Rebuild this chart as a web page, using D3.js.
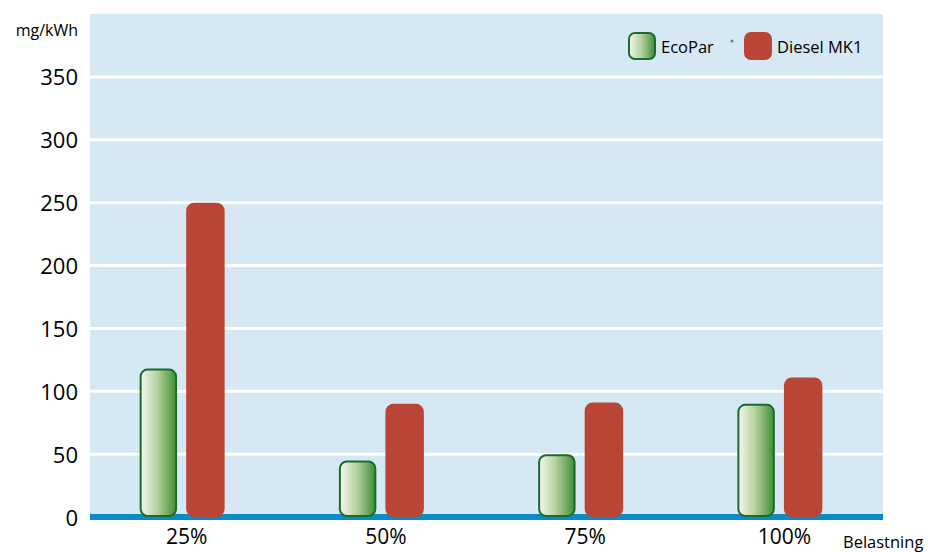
<!DOCTYPE html>
<html><head><meta charset="utf-8">
<script src="https://cdn.jsdelivr.net/npm/d3@7"></script>
<style>body{margin:0;background:#fff}svg{display:block;font-family:"Open Sans",sans-serif}</style>
</head><body><svg id="c" width="928" height="552"></svg>
<script>
const categories = ["25%", "50%", "75%", "100%"];
const seriesNames = ["EcoPar", "Diesel MK1"];
const ecoPar = [118, 45, 50, 90];
const dieselMK1 = [250, 90, 91, 111];
const yTicks = [0, 50, 100, 150, 200, 250, 300, 350];

const svg = d3.select("#c");
const m = {l: 90, r: 883, t: 14, b: 517};
const x = d3.scaleBand().domain(categories).range([87, 884]);
const y = d3.scaleLinear().domain([0, 400]).range([m.b, m.t]);
const inner = d3.scaleBand().domain(seriesNames).range([-47, 38]).paddingInner(8 / 46);

const defs = svg.append("defs");
const g = defs.append("linearGradient").attr("id", "eco").attr("x1", "0").attr("x2", "1").attr("y1", "0").attr("y2", "0");
g.append("stop").attr("offset", "0").attr("stop-color", "#f4f7ee");
g.append("stop").attr("offset", "0.45").attr("stop-color", "#b9d3a2");
g.append("stop").attr("offset", "1").attr("stop-color", "#3f8f34");

svg.append("rect").attr("x", m.l).attr("y", m.t).attr("width", m.r - m.l).attr("height", m.b - m.t).attr("fill", "#d5e8f3");

svg.append("g").selectAll("line").data(yTicks.filter(d => d > 0)).join("line")
  .attr("x1", m.l).attr("x2", m.r).attr("y1", d => y(d)).attr("y2", d => y(d))
  .attr("stroke", "#fff").attr("stroke-width", 3);

svg.append("line").attr("x1", m.l).attr("x2", m.r).attr("y1", y(0)).attr("y2", y(0))
  .attr("stroke", "#0a8bc9").attr("stroke-width", 6);

const yAxis = svg.append("g").attr("transform", `translate(78,1)`)
  .call(d3.axisLeft(y).tickValues(yTicks).tickSize(0).tickPadding(0));
yAxis.select(".domain").remove();
yAxis.selectAll("text").attr("font-size", 22).attr("fill", "#000").attr("font-family", "Open Sans, sans-serif");

const xAxis = svg.append("g").attr("transform", `translate(0,${m.b})`)
  .call(d3.axisBottom(x).tickSize(0).tickPadding(12));
xAxis.select(".domain").remove();
xAxis.selectAll("text").attr("font-size", 21).attr("fill", "#000").attr("font-family", "Open Sans, sans-serif");

svg.append("text").attr("x", 78).attr("y", 36).attr("text-anchor", "end").attr("font-size", 16).attr("fill", "#000").text("mg/kWh");
svg.append("text").attr("x", 843).attr("y", 548).attr("font-size", 16.5).attr("fill", "#000").text("Belastning");

const groups = svg.append("g").selectAll("g").data(categories).join("g")
  .attr("transform", d => `translate(${x(d) + x.bandwidth() / 2},0)`);
groups.append("rect")
  .attr("x", (d) => inner("EcoPar") + 1).attr("width", inner.bandwidth() - 3)
  .attr("y", (d, i) => y(ecoPar[i]) + 1).attr("height", (d, i) => y(0) - 2 - y(ecoPar[i]))
  .attr("rx", 7).attr("fill", "url(#eco)").attr("stroke", "#1b6b2b").attr("stroke-width", 2);
groups.append("rect")
  .attr("x", inner("Diesel MK1")).attr("width", inner.bandwidth())
  .attr("y", (d, i) => y(dieselMK1[i])).attr("height", (d, i) => y(0) - y(dieselMK1[i]))
  .attr("rx", 8).attr("fill", "#b94537");

const lg = svg.append("g");
lg.append("rect").attr("x", 629).attr("y", 33).attr("width", 26).attr("height", 26).attr("rx", 6)
  .attr("fill", "url(#eco)").attr("stroke", "#1b6b2b").attr("stroke-width", 2);
lg.append("text").attr("x", 661).attr("y", 52.5).attr("font-size", 16.5).attr("fill", "#000").text(seriesNames[0]);
lg.append("circle").attr("cx", 732).attr("cy", 41).attr("r", 1.5).attr("fill", "#777");
lg.append("rect").attr("x", 744).attr("y", 32).attr("width", 28).attr("height", 28).attr("rx", 7).attr("fill", "#b94537");
lg.append("text").attr("x", 777).attr("y", 52.5).attr("font-size", 16.5).attr("fill", "#000").text(seriesNames[1]);
</script></body></html>
